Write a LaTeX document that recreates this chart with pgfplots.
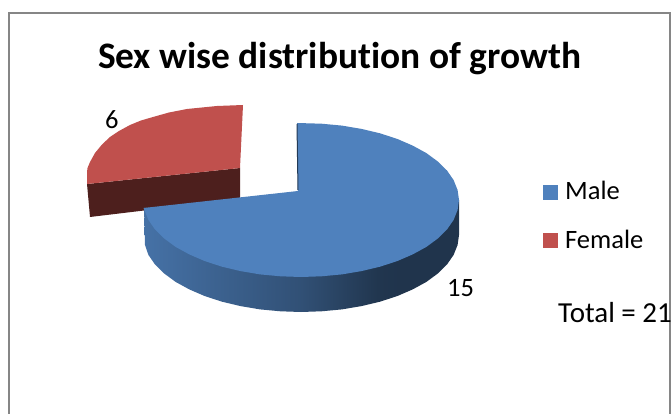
\documentclass[border=0pt]{standalone}
\usepackage{pgfplots}
\usepackage{fontspec}
\pgfplotsset{compat=1.18}
\setmainfont{Carlito}[Ligatures=NoCommon]
\definecolor{maleblue}{HTML}{4F81BD}
\definecolor{femalered}{HTML}{C0504D}
\definecolor{femaledark}{HTML}{4D1F1D}
\definecolor{framegray}{HTML}{868686}
\pgfdeclarehorizontalshading{maleside}{100bp}{
  color(0bp)=(maleblue!88!black);
  color(25bp)=(maleblue!88!black);
  color(50bp)=(maleblue!62!black);
  color(62bp)=(maleblue!42!black);
  color(66bp)=(maleblue!40!black);
  color(75bp)=(maleblue!40!black);
  color(100bp)=(maleblue!40!black)}
\begin{document}
\begin{tikzpicture}
\useasboundingbox (0,0) rectangle (672pt,414pt);
\begin{axis}[
  at={(0,0)}, anchor=south west,
  scale only axis, width=672pt, height=414pt,
  xmin=0, xmax=672, ymin=0, ymax=414, y dir=reverse,
  axis lines=none, clip=false,
]
% chart frame, open at the bottom
\addplot[framegray, line width=2.4pt] coordinates {(9,414) (9,13) (670,13) (670,414)};

% Female slice, pulled out of the pie
\addplot[draw=none, fill=femaledark] coordinates {(87,184) (240,168) (240,199) (90,217)} -- cycle;
\addplot[draw=none, fill=femalered] coordinates {
  (243,105) (217,106) (187,109) (169,112.5) (153,117) (141,120.5) (130,125) (119,131) (110,137)
  (102,144.5) (95,153) (90,162) (87.5,168) (87,172) (87,184) (240,168)} -- cycle;

% Male slice: rim first, then the top face over it
\addplot[draw=none, shading=maleside] coordinates {
  (459,200) (459,235) (457.6,245) (453.6,254.9) (447,264.5) (437.8,273.5) (426.4,281.9)
  (412.7,289.4) (397.2,296.1) (380,301.7) (361.5,306.1) (341.9,309.4) (321.6,311.3) (301,312)
  (280.4,311.3) (260.1,309.4) (240.5,306.1) (222,301.7) (204.8,296.1) (189.3,289.4)
  (175.6,281.9) (164.2,273.5) (155,264.5) (148.4,254.9) (145,245) (144,208)} -- cycle;
\addplot[draw=none, fill=maleblue] coordinates {
  (297,123) (321.6,123.7) (341.9,125.6) (361.5,128.9) (380,133.3) (397.2,138.9) (412.7,145.6)
  (426.4,153.1) (437.8,161.5) (447,170.5) (453.6,180.1) (457.6,190) (459,200) (457.6,210)
  (453.6,219.9) (447,229.5) (437.8,238.5) (426.4,246.9) (412.7,254.4) (397.2,261.1) (380,266.7)
  (361.5,271.1) (341.9,274.4) (321.6,276.3) (301,277) (280.4,276.3) (260.1,274.4) (240.5,271.1)
  (222,266.7) (204.8,261.1) (189.3,254.4) (175.6,246.9) (164.2,238.5) (155,229.5) (148.4,219.9)
  (144.4,210) (143.5,208) (298,191)} -- cycle;
\addplot[maleblue!45!black, line width=1pt] coordinates {(297,124) (298,190)};

% legend keys
\addplot[draw=none, fill=maleblue] coordinates {(543,185) (558,185) (558,200) (543,200)} -- cycle;
\addplot[draw=none, fill=femalered] coordinates {(543,233) (558,233) (558,248) (543,248)} -- cycle;

% text
\node[anchor=base, font=\fontsize{37.4}{40}\selectfont\bfseries, inner sep=0pt] at (axis cs:339.5,69) {Sex wise distribution of growth};
\node[anchor=base west, font=\fontsize{26.5}{28}\selectfont, inner sep=0pt] at (axis cs:565,200) {Male};
\node[anchor=base west, font=\fontsize{26.5}{28}\selectfont, inner sep=0pt] at (axis cs:565,248) {Female};
\node[anchor=base west, font=\fontsize{29}{32}\selectfont, inner sep=0pt] at (axis cs:558,322) {Total = 21};
\node[anchor=base west, font=\fontsize{26.5}{28}\selectfont, inner sep=0pt] at (axis cs:105,129) {6};
\node[anchor=base west, font=\fontsize{26.5}{28}\selectfont, inner sep=0pt] at (axis cs:447,296) {15};
\end{axis}
\end{tikzpicture}
\end{document}
